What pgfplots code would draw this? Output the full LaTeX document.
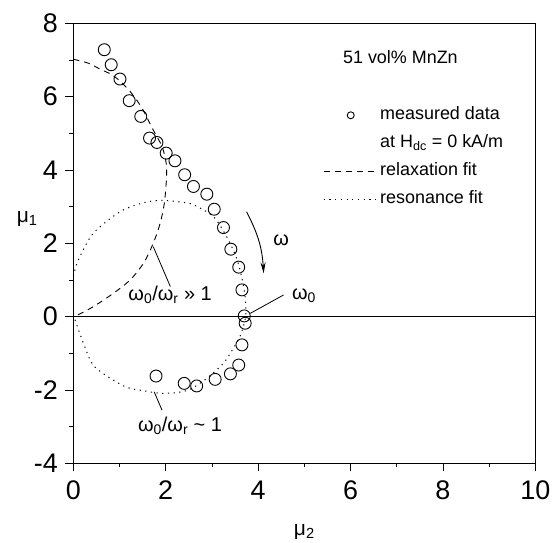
\documentclass[border=0pt]{standalone}
\usepackage{fontspec}
\setmainfont{Liberation Sans}
\usepackage{pgfplots}
\pgfplotsset{compat=1.18}
\usetikzlibrary{arrows.meta}
\pgfplotsset{
    markonly legend/.style={legend image code/.code={\draw[##1, mark size=3.5bp] plot coordinates {(27bp,0bp)};}},
}

\begin{document}
\begin{tikzpicture}
\begin{axis}[
    scale only axis,
    width=462bp, height=440bp,
    xmin=0, xmax=10, ymin=-4, ymax=8,
    xtick={0,2,...,10}, ytick={-4,-2,...,8},
    minor x tick num=1, minor y tick num=1,
    tick align=outside,
    xtick pos=bottom, ytick pos=left,
    major tick length=8bp, minor tick length=4bp,
    every tick/.style={black, line width=0.8bp},
    axis line style={line width=1bp},
    /pgf/number format/assume math mode=true,
    tick label style={font=\fontsize{27}{30}\selectfont},
    xticklabel style={yshift=-6bp},
    yticklabel style={xshift=-4bp},
    xlabel={μ\textsubscript{2}},
    ylabel={μ\textsubscript{1}},
    label style={font=\fontsize{21}{24}\selectfont},
    xlabel style={at={(rel axis cs:0.5,-0.155)}, anchor=center},
    ylabel style={at={(rel axis cs:-0.1,0.555)}, anchor=center, rotate=-90},
    legend style={at={(rel axis cs:0.5405,0.813)}, anchor=north west,
        draw=none, fill=none, inner sep=0pt, row sep=9bp, column sep=0pt,
        font=\fontsize{18}{22}\selectfont,
        nodes={inner sep=0pt, text height=14bp, text depth=5bp}},
    legend cell align=left,
    legend image code/.code={\draw[#1] (0bp,0bp) -- (54bp,0bp);},
    clip=false,
]
% measured data
\addplot[only marks, mark=o, mark size=6bp, black, line width=0.9bp, markonly legend]
    coordinates {
    (0.67,7.28) (0.82,6.87) (1.01,6.48) (1.21,5.89) (1.46,5.46)
    (1.65,4.87) (1.81,4.75) (2.01,4.46) (2.20,4.25) (2.41,3.87)
    (2.60,3.55) (2.89,3.34) (3.05,2.93) (3.25,2.43) (3.41,1.84)
    (3.58,1.35) (3.65,0.73) (3.70,0.02) (3.72,-0.18) (3.65,-0.77)
    (3.58,-1.32) (3.40,-1.56) (3.07,-1.71) (2.67,-1.89) (2.40,-1.82)
    (1.79,-1.62)
};
\addlegendentry{\hspace{2bp}measured data}
\addlegendimage{empty legend}
\addlegendentry{\hspace{2bp}at H\textsubscript{dc} = 0 kA/m}
% relaxation fit
\addplot[black, line width=0.9bp, dash pattern=on 6bp off 5bp, smooth, tension=0.5]
    coordinates {
    (0.00,7.02) (0.33,6.91) (0.58,6.75) (0.80,6.62) (0.98,6.46)
    (1.23,6.14) (1.48,5.70) (1.73,5.09) (1.92,4.64) (2.01,4.19)
    (2.02,3.90) (2.01,3.64) (1.97,3.09) (1.88,2.55) (1.73,2.00)
    (1.52,1.46) (1.23,1.00) (0.87,0.64) (0.43,0.27) (0.10,0.05)
    (0.00,0.00)
};
\addlegendentry{\hspace{2bp}relaxation fit}
% resonance fit
\addplot[black, line width=1bp, dash pattern=on 1.2bp off 4.5bp, smooth, tension=0.5]
    coordinates {
    (0.00,1.10) (0.11,1.55) (0.43,2.27) (1.01,2.86) (1.50,3.10)
    (1.88,3.17) (2.30,3.13) (2.60,3.05) (3.03,2.73) (3.32,2.18)
    (3.50,1.70) (3.61,1.27) (3.72,0.55) (3.73,0.00) (3.62,-0.50)
    (3.47,-0.85) (3.25,-1.27) (2.89,-1.68) (2.53,-1.98) (2.24,-2.07)
    (1.88,-2.09) (1.52,-2.02) (1.16,-1.93) (0.80,-1.68) (0.43,-1.32)
    (0.22,-0.73) (0.04,-0.10) (0.00,0.00)
};
\addlegendentry{\hspace{2bp}resonance fit}
% zero line
\draw[line width=1bp] (axis cs:0,0) -- (axis cs:10,0);
% annotations
\node[font=\fontsize{18}{22}\selectfont] at (axis cs:7.08,7.09) {51 vol\% MnZn};
\draw[line width=0.8bp] (axis cs:1.73,1.91) -- (axis cs:2.10,0.82);
\node[font=\fontsize{20}{24}\selectfont, anchor=base] at (axis cs:2.095,0.43)
    {ω\textsubscript{0}/ω\textsubscript{r} » 1};
\draw[line width=0.8bp] (axis cs:1.75,-2.05) -- (axis cs:1.92,-2.55);
\node[font=\fontsize{20}{24}\selectfont, anchor=base] at (axis cs:2.31,-3.12)
    {ω\textsubscript{0}/ω\textsubscript{r} \textasciitilde{} 1};
\draw[line width=0.8bp] (axis cs:3.83,0.09) -- (axis cs:4.55,0.59);
\node[font=\fontsize{20}{24}\selectfont, anchor=base west] at (axis cs:4.66,0.48)
    {ω\textsubscript{0}};
\draw[line width=0.9bp, -{Stealth[length=11bp,width=5bp]}]
    (axis cs:3.75,2.86) to[bend left=12] (axis cs:4.12,1.18);
\node[font=\fontsize{20}{24}\selectfont] at (axis cs:4.50,2.09) {ω};
% page margins as in the reference
\path (rel axis cs:-0.1587,-0.1811) rectangle (rel axis cs:1.0426,1.053);
\end{axis}
\end{tikzpicture}
\end{document}
